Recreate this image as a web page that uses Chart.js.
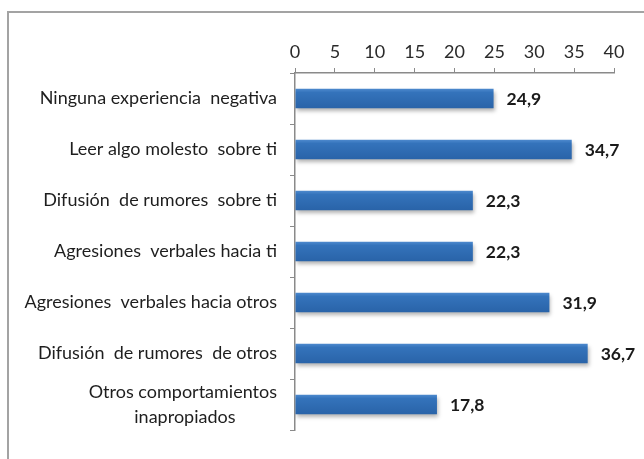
<!DOCTYPE html>
<html>
<head>
<meta charset="utf-8">
<script src="https://cdn.jsdelivr.net/npm/chart.js@4"></script>
<style>
    body { margin: 0; background: #fff; }
    .frame {
        position: absolute; left: 7px; top: 11px; width: 700px; height: 500px;
        border-top: 2px solid #a3a3a3; border-left: 2px solid #a3a3a3;
    }
    canvas { position: absolute; left: 0; top: 0; }
</style>
</head>
<body>
<div class="frame"></div>
<canvas id="chart" width="644" height="459"></canvas>
<script>
const categories = [
    'Ninguna experiencia  negativa',
    'Leer algo molesto  sobre ti',
    'Difusión  de rumores  sobre ti',
    'Agresiones  verbales hacia ti',
    'Agresiones  verbales hacia otros',
    'Difusión  de rumores  de otros',
    ['Otros comportamientos', 'inapropiados' + '\u00a0'.repeat(9)]
];
const values = [24.9, 34.7, 22.3, 22.3, 31.9, 36.7, 17.8];
const xTicks = [0, 5, 10, 15, 20, 25, 30, 35, 40];

const labelFont = { family: 'Lato', size: 18, lineHeight: 1.4 };

function barGradient(ctx) {
    const chart = ctx.chart;
    const y = chart.scales && chart.scales.y;
    if (!y || ctx.dataIndex === undefined) return '#2f6eb5';
    const c = y.getPixelForValue(ctx.dataIndex);
    if (!isFinite(c)) return '#2f6eb5';
    const half = 10;
    const g = chart.ctx.createLinearGradient(0, c - half, 0, c + half);
    g.addColorStop(0, '#4f8bcf');
    g.addColorStop(0.2, '#3473bb');
    g.addColorStop(1, '#2963a8');
    return g;
}

const shadowPlugin = {
    id: 'barShadow',
    beforeDatasetsDraw(chart) {
        const ctx = chart.ctx;
        ctx.save();
        ctx.shadowColor = 'rgba(0,0,0,0.3)';
        ctx.shadowBlur = 4;
        ctx.shadowOffsetX = 1;
        ctx.shadowOffsetY = 3;
    },
    afterDatasetsDraw(chart) {
        chart.ctx.restore();
    }
};

const valueLabels = {
    id: 'valueLabels',
    afterDatasetsDraw(chart) {
        const ctx = chart.ctx;
        ctx.save();
        ctx.font = 'bold 17.5px Lato';
        ctx.fillStyle = '#1a1a1a';
        ctx.textBaseline = 'middle';
        ctx.textAlign = 'left';
        chart.getDatasetMeta(0).data.forEach((bar, i) => {
            ctx.fillText(values[i].toFixed(1).replace('.', ','), bar.x + 13, bar.y + 1);
        });
        ctx.restore();
    }
};

new Chart(document.getElementById('chart').getContext('2d'), {
    type: 'bar',
    data: {
        labels: categories,
        datasets: [{
            data: values,
            backgroundColor: barGradient,
            barPercentage: 0.38,
            categoryPercentage: 1
        }]
    },
    options: {
        indexAxis: 'y',
        responsive: false,
        animation: false,
        layout: { padding: { left: 0, right: 30, top: 0, bottom: 29 } },
        plugins: { legend: { display: false }, tooltip: { enabled: false } },
        scales: {
            x: {
                position: 'top',
                min: 0,
                max: 40,
                afterBuildTicks: scale => { scale.ticks = xTicks.map(v => ({ value: v })); },
                afterFit: scale => { scale.height = 73; },
                grid: { drawOnChartArea: false, drawTicks: true, tickLength: 5, color: '#8a8a8a' },
                border: { display: true, color: '#8a8a8a', width: 1.5 },
                ticks: { font: { family: 'Lato', size: 18 }, color: '#2a2a2a', padding: 5 }
            },
            y: {
                afterFit: scale => { scale.width = 295; },
                grid: { drawOnChartArea: false, drawTicks: true, tickLength: 5, color: '#8a8a8a', offset: true },
                border: { display: true, color: '#8a8a8a', width: 1.5 },
                ticks: { font: labelFont, color: '#1e1e1e', padding: 13, autoSkip: false }
            }
        }
    },
    plugins: [shadowPlugin, valueLabels]
});
</script>
</body>
</html>
